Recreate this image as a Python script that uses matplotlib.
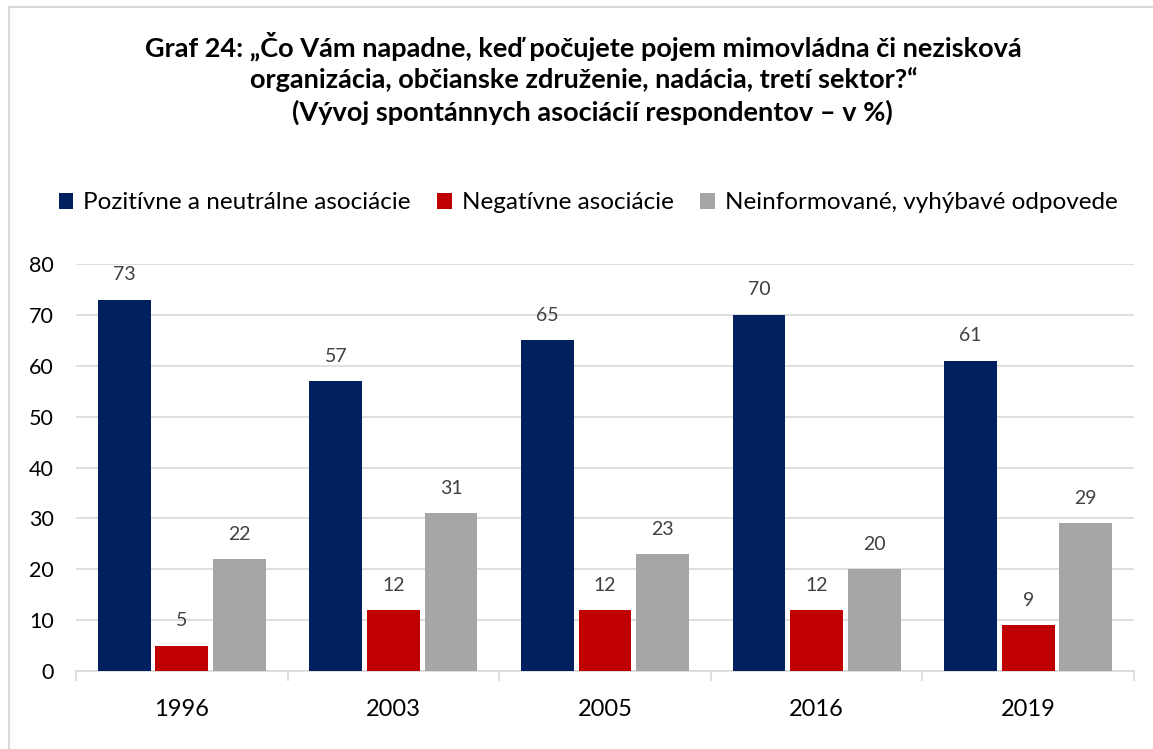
import matplotlib
matplotlib.use("Agg")
import matplotlib.pyplot as plt
import numpy as np
from matplotlib.lines import Line2D

years = ["1996", "2003", "2005", "2016", "2019"]
series_names = ["Pozitívne a neutrálne asociácie", "Negatívne asociácie",
                "Neinformované, vyhýbavé odpovede"]
positive = [73, 57, 65, 70, 61]
negative = [5, 12, 12, 12, 9]
uninformed = [22, 31, 23, 20, 29]
colors = ["#002060", "#C00000", "#A6A6A6"]

plt.rcParams['font.family'] = ['Lato', 'DejaVu Sans']

W, H = 1153, 749
fig = plt.figure(figsize=(W / 100, H / 100), dpi=100)

def fx(px):
    return px / W

def fy(py):
    return 1 - py / H

# frame
fig.add_artist(Line2D([fx(9), fx(9)], [fy(7), 0], color="#D9D9D9", lw=1.5))
fig.add_artist(Line2D([fx(9), 1], [fy(7), fy(7)], color="#D9D9D9", lw=1.5))

# title
tfs = 19.5
fig.text(fx(583), fy(46), "Graf 24: „Čo Vám napadne, keď počujete pojem mimovládna či nezisková",
         ha="center", va="center", fontsize=tfs, fontweight="bold")
fig.text(fx(584), fy(80), "organizácia, občianske združenie, nadácia, tretí sektor?“",
         ha="center", va="center", fontsize=tfs, fontweight="bold")
fig.text(fx(592), fy(112), "(Vývoj spontánnych asociácií respondentov – v %)",
         ha="center", va="center", fontsize=tfs, fontweight="bold")

ax = fig.add_axes([fx(76), fy(671), fx(1134) - fx(76), fy(264) - fy(671)])
x = np.arange(len(years))
width = 0.25
step = 0.272
data = [positive, negative, uninformed]
handles = []
for i, (vals, c, name) in enumerate(zip(data, colors, series_names)):
    b = ax.bar(x + (i - 1) * step, vals, width, color=c, label=name, zorder=3)
    handles.append(b)
    for xi, v in zip(x + (i - 1) * step, vals):
        ax.text(xi, v + 4.9, str(v), ha="center", va="center", fontsize=14,
                color="#404040")

ax.set_xlim(-0.5, len(years) - 0.5)
ax.set_ylim(0, 80)
ax.set_yticks(range(0, 81, 10))
ax.yaxis.grid(True, color="#D9D9D9", lw=1.2, zorder=0)
ax.set_axisbelow(True)
for s in ["top", "right", "left"]:
    ax.spines[s].set_visible(False)
ax.spines["bottom"].set_color("#D9D9D9")
ax.spines["bottom"].set_linewidth(1.2)
ax.tick_params(axis="y", length=0, labelsize=15.5, pad=16, labelcolor="#000000")
ax.set_xticks(x)
ax.set_xticklabels(years, fontsize=17)
ax.tick_params(axis="x", length=0, pad=20)
ax.set_xticks(np.arange(-0.5, len(years), 1.0), minor=True)
ax.tick_params(axis="x", which="minor", length=7, color="#D9D9D9", width=1.2)

fig.legend(handles=handles, labels=series_names, loc="center",
           bbox_to_anchor=(fx(588), fy(203)), ncol=3, frameon=False,
           fontsize=17.5, handlelength=0.6, handleheight=0.6,
           handletextpad=0.4, columnspacing=1.1)

fig.savefig("out.png", dpi=100)
